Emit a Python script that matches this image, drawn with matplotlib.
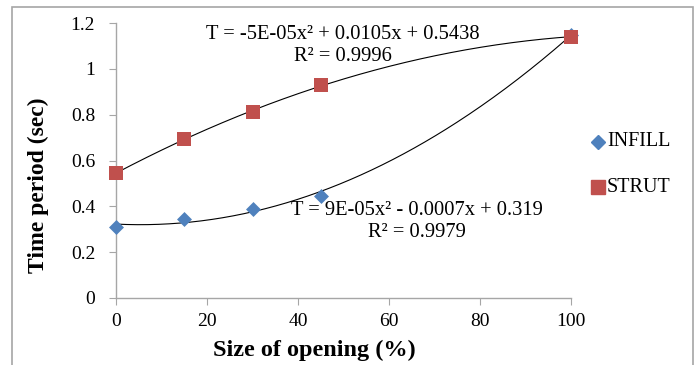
import numpy as np
import matplotlib
matplotlib.use("Agg")
import matplotlib.pyplot as plt
from matplotlib.patches import Rectangle

opening = [0, 15, 30, 45, 100]
infill = [0.31, 0.345, 0.39, 0.445, 1.149]
strut = [0.545, 0.695, 0.81, 0.93, 1.14]
xticks = [0, 20, 40, 60, 80, 100]
yticks = [0, 0.2, 0.4, 0.6, 0.8, 1.0, 1.2]
ytick_labels = ["0", "0.2", "0.4", "0.6", "0.8", "1", "1.2"]
eq_strut = "T = -5E-05x² + 0.0105x + 0.5438\nR² = 0.9996"
eq_infill = "T = 9E-05x² - 0.0007x + 0.319\nR² = 0.9979"

plt.rcParams['font.family'] = ['Liberation Serif', 'DejaVu Serif']

W, H = 699, 365
fig = plt.figure(figsize=(W/100, H/100), dpi=100)
ax = fig.add_axes([116/W, 1-298/H, (571-116)/W, (298-23)/H])

fig.patches.append(Rectangle((12/W, -0.1), (693-12)/W, 1.1-7/H, transform=fig.transFigure,
                             fill=False, edgecolor='#a6a6a6', linewidth=1.2, zorder=0))

blue = '#4F81BD'
red = '#C0504D'
xs = np.linspace(0, 100, 300)
ci = np.polyfit(opening, infill, 2)
cs = np.polyfit(opening, strut, 2)
ax.plot(xs, np.polyval(ci, xs), color='black', lw=0.8, zorder=2)
ax.plot(xs, np.polyval(cs, xs), color='black', lw=0.8, zorder=2)
ax.scatter(opening, infill, marker='D', s=58, color=blue, zorder=3, clip_on=False, linewidths=0)
ax.scatter(opening, strut, marker='s', s=100, color=red, zorder=4, clip_on=False, linewidths=0)

ax.set_xlim(0, 100)
ax.set_ylim(0, 1.2)
ax.set_xticks(xticks)
ax.set_yticks(yticks)
ax.set_yticklabels(ytick_labels)
for s in ['top', 'right']:
    ax.spines[s].set_visible(False)
for s in ['left', 'bottom']:
    ax.spines[s].set_color('#a6a6a6')
    ax.spines[s].set_linewidth(1.0)
ax.tick_params(axis='both', colors='#a6a6a6', labelcolor='black', labelsize=14, length=5, direction='out')
ax.tick_params(axis='x', pad=6)
ax.tick_params(axis='y', pad=10)

ax.set_xlabel("Size of opening (%)", fontsize=17.5, fontweight='bold')
ax.set_ylabel("Time period (sec)", fontsize=17, fontweight='bold')
ax.xaxis.set_label_coords((314-116)/(571-116), -(350-298)/(298-23))
ax.xaxis.label.set_va('center')
ax.yaxis.set_label_coords(-(116-38)/(571-116), (298-185)/(298-23))
ax.yaxis.label.set_va('center')

fig.text(343/W, 1-45.5/H, eq_strut, ha='center', va='center', fontsize=14.8, linespacing=1.15)
fig.text(417/W, 1-221.5/H, eq_infill, ha='center', va='center', fontsize=14.8, linespacing=1.15)

lax = fig.add_axes([0, 0, 1, 1], facecolor='none')
lax.set_xlim(0, W); lax.set_ylim(H, 0); lax.axis('off')
lax.plot([598], [142], marker='D', ms=7, color=blue, ls='none')
lax.text(607, 142, "INFILL", va='center', ha='left', fontsize=14.5)
lax.plot([598], [187], marker='s', ms=9.5, color=red, ls='none')
lax.text(607, 187, "STRUT", va='center', ha='left', fontsize=14.5)

fig.savefig("out.png", dpi=100)
